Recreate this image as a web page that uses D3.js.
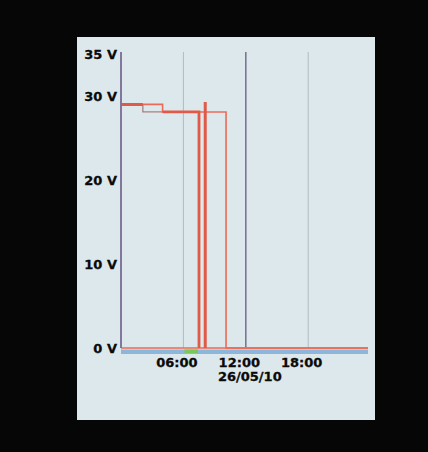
<!DOCTYPE html>
<html>
<head>
<meta charset="utf-8">
<script src="https://cdn.jsdelivr.net/npm/d3@7"></script>
<style>
	html, body { margin: 0; padding: 0; background: #060606; }
	svg { display: block; }
	.tick text { font-family: "DejaVu Sans", sans-serif; font-weight: bold; font-size: 13px; fill: #0a0a0a; stroke: #0a0a0a; stroke-width: 0.3px; }
</style>
</head>
<body>
<svg id="chart" width="428" height="452"></svg>
<script>
'use strict';

var DAY = new Date(2010, 4, 26);

// hours after midnight, volts (null = gap)
var s1Hours = [0, 4.0, 4.0, 10.1, 10.1, 23.75];
var s1Volts = [29.0, 29.0, 28.1, 28.1, 0, 0];

var s2Hours = [2.1, 2.1, 4.0];
var s2Volts = [29.0, 28.1, 28.1];

var s3Hours = [4.0, 7.5, 7.5];
var s3Volts = [28.1, 28.1, 0];

var s4Hours = [0, 2.1, 2.1, 8.1, 8.1];
var s4Volts = [29.0, 29.0, null, 29.3, 0];

var s5Hours = [0, 23.75];
var s5Volts = [0, 0];

var yTicks = [0, 10, 20, 30, 35];
var xTickHours = [6, 12, 18];
var gridHours = [0, 6, 12, 18];
var dateLabel = "26/05/10";
var activeBand = [6.1, 7.4];

var RED = "#ec6a55";

function toDate(h) {
	return new Date(DAY.getTime() + h * 3600 * 1000);
}

function zipSeries(hours, volts) {
	return hours.map(function (h, i) { return { t: toDate(h), v: volts[i] }; });
}

var svg = d3.select("#chart"),
	margin = {top: 54, right: 60, bottom: 104, left: 121},
	width = +svg.attr("width") - margin.left - margin.right,
	height = +svg.attr("height") - margin.top - margin.bottom;

// screen panel
svg.append("rect")
	.attr("x", 77).attr("y", 37)
	.attr("width", 298).attr("height", 383)
	.style("fill", "#dde8ec");

var g = svg.append("g").attr("transform", "translate(" + margin.left + "," + margin.top + ")");

var x = d3.scaleTime()
	.domain([toDate(0), toDate(23.75)])
	.range([0, width]);

var y = d3.scaleLinear()
	.domain([0, 35])
	.range([height, 0]);

// vertical grid
g.append("g")
	.selectAll("line")
	.data(gridHours)
	.enter().append("line")
		.attr("x1", function (d) { return x(toDate(d)); })
		.attr("x2", function (d) { return x(toDate(d)); })
		.attr("y1", -2)
		.attr("y2", height)
		.style("stroke", function (d) { return d % 12 === 0 ? "#7f7398" : "#b4b8c2"; })
		.style("stroke-width", function (d) { return d % 12 === 0 ? 1.6 : 1; });

// timeline bar under the plot
g.append("rect")
	.attr("x", 0).attr("y", height + 1.5)
	.attr("width", width).attr("height", 4.5)
	.style("fill", "#8cb6da");

g.append("rect")
	.attr("x", x(toDate(activeBand[0])))
	.attr("y", height + 1.5)
	.attr("width", x(toDate(activeBand[1])) - x(toDate(activeBand[0])))
	.attr("height", 3.5)
	.style("fill", "#78c85a");

var line = d3.line()
	.defined(function (d) { return d.v !== null; })
	.x(function (d) { return x(d.t); })
	.y(function (d) { return y(d.v); });

function drawSeries(hours, volts, color, w) {
	g.append("path")
		.datum(zipSeries(hours, volts))
		.attr("d", line)
		.style("fill", "none")
		.style("stroke", color)
		.style("stroke-width", w);
}

drawSeries(s5Hours, s5Volts, RED, 1.6);
drawSeries(s2Hours, s2Volts, "#a8807c", 1.3);
drawSeries(s1Hours, s1Volts, RED, 1.6);
drawSeries(s3Hours, s3Volts, "#e05a48", 2.8);
drawSeries(s4Hours, s4Volts, "#e05a48", 3);

g.append("g")
	.call(d3.axisLeft(y).tickValues(yTicks).tickSize(0).tickPadding(4)
		.tickFormat(function (d) { return d + " V"; }))
	.call(function (a) { a.select(".domain").remove(); });

g.append("g")
	.attr("transform", "translate(0," + height + ")")
	.call(d3.axisBottom(x).tickValues(xTickHours.map(toDate)).tickSize(0).tickPadding(10)
		.tickFormat(d3.timeFormat("%H:%M")))
	.call(function (a) {
		a.select(".domain").remove();
		a.selectAll(".tick text").attr("dx", -7);
	});

g.append("text")
	.attr("x", x(toDate(12)) + 4)
	.attr("y", height + 33)
	.attr("text-anchor", "middle")
	.style("font-family", "DejaVu Sans, sans-serif")
	.style("font-weight", "bold")
	.style("font-size", "13px")
	.style("fill", "#0a0a0a")
	.style("stroke", "#0a0a0a")
	.style("stroke-width", "0.3px")
	.text(dateLabel);

// left axis line
g.append("line")
	.attr("y1", -2).attr("y2", height)
	.style("stroke", "#7f7398")
	.style("stroke-width", 1.6);
</script>
</body>
</html>
